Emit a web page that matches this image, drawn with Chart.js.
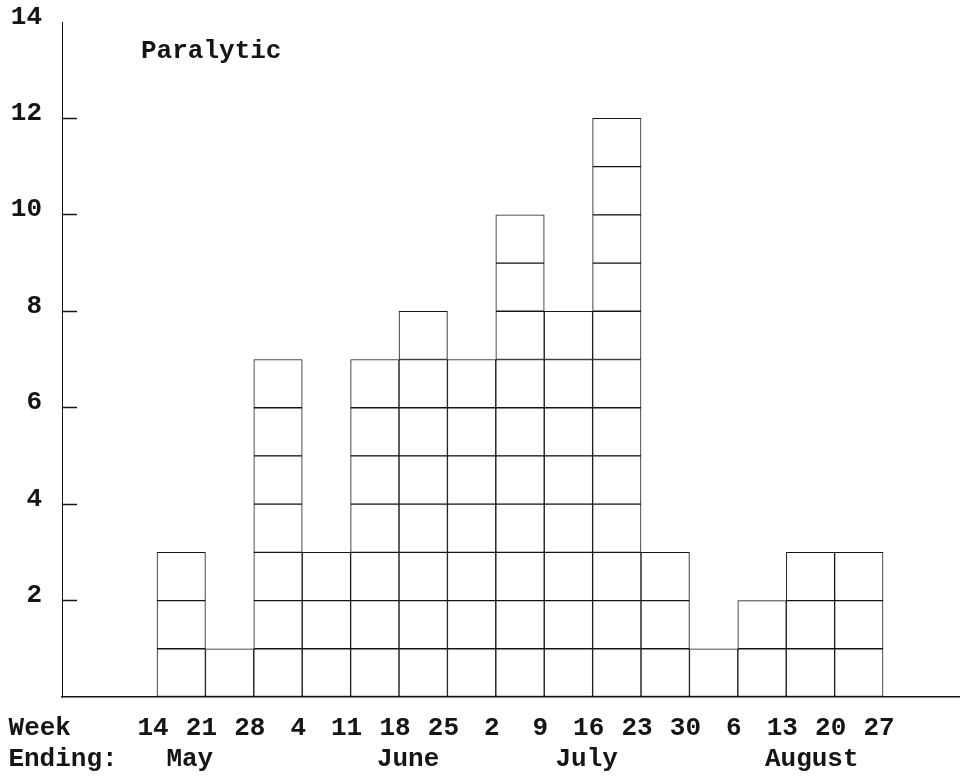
<!DOCTYPE html>
<html>
<head>
<meta charset="utf-8">
<script src="https://cdn.jsdelivr.net/npm/chart.js@4.4.1/dist/chart.umd.min.js"></script>
<style>
  html, body { margin: 0; padding: 0; background: #ffffff; }
  #wrap { width: 960px; height: 777px; position: relative; }
</style>
</head>
<body>
<div id="wrap"><canvas id="c"></canvas></div>
<script>
// ---------------- data ----------------
const weekEndingLabels = ['14','21','28','4','11','18','25','2','9','16','23','30','6','13','20','27'];
const paralyticCases   = [3, 1, 7, 3, 7, 8, 7, 10, 8, 12, 3, 1, 2, 3, 3];
const monthLabels      = ['May', 'June', 'July', 'August'];
const yTickLabels      = ['', '2', '4', '6', '8', '10', '12', '14'];
const chartTitle       = 'Paralytic';
const axisCaption      = ['Week', 'Ending:'];

// ---------------- layout (in week units on the x scale) ----------------
const monthCenters   = [0.76, 5.27, 8.96, 13.61];
const captionCenters = [-2.34, -1.86];
const titleCenter    = 1.12;
const X_MIN = -1.963, X_MAX = 16.59;

const FONT = "'Liberation Mono', 'DejaVu Sans Mono', monospace";
const INK = '#151515';

// unit-square stacks: layer k holds one square for every week with >= k cases
const maxCases = Math.max(...paralyticCases);
const datasets = [];
for (let k = 1; k <= maxCases; k++) {
  const pts = [];
  paralyticCases.forEach((c, i) => { if (c >= k) pts.push({ x: i + 0.5, y: 1 }); });
  datasets.push({
    label: 'case ' + k,
    data: pts,
    backgroundColor: '#ffffff',
    borderColor: INK,
    borderWidth: 1,
    borderSkipped: false,
    barPercentage: 1,
    categoryPercentage: 1
  });
}

// bottom axis ticks: week boundaries, plus second-row month names and the caption
const xTicks = [];
for (let i = 0; i < weekEndingLabels.length - 1; i++) xTicks.push({ value: i, label: weekEndingLabels[i] });
xTicks.push({ value: captionCenters[0], label: axisCaption[0] });
xTicks.push({ value: monthCenters[0], label: ['', monthLabels[0]] });
xTicks.push({ value: monthCenters[1], label: ['', monthLabels[1]] });
xTicks.push({ value: captionCenters[1], label: ['', axisCaption[1]] });
xTicks.push({ value: monthCenters[2], label: ['', monthLabels[2]] });
xTicks.push({ value: monthCenters[3], label: ['', monthLabels[3]] });
xTicks.push({ value: weekEndingLabels.length - 1, label: weekEndingLabels[weekEndingLabels.length - 1] });

new Chart(document.getElementById('c'), {
  type: 'bar',
  data: { datasets },
  options: {
    responsive: true,
    maintainAspectRatio: false,
    animation: false,
    events: [],
    layout: { padding: { top: 22, left: 0, right: 0, bottom: 0 } },
    plugins: { legend: { display: false }, tooltip: { enabled: false }, title: { display: false } },
    scales: {
      x: {
        type: 'linear',
        position: 'bottom',
        stacked: true,
        offset: false,
        min: X_MIN,
        max: X_MAX,
        grid: { display: false, drawTicks: false, offset: false },
        border: { display: true, color: INK, width: 1.5 },
        afterBuildTicks: (scale) => { scale.ticks = xTicks.map(t => ({ value: t.value })); },
        afterFit: (scale) => { scale.height = 80; scale.paddingLeft = 0; scale.paddingRight = 0; },
        ticks: {
          autoSkip: false,
          maxRotation: 0,
          minRotation: 0,
          padding: 16,
          labelOffset: -4,
          color: INK,
          font: { family: FONT, size: 26, weight: 'bold', lineHeight: 1.2 },
          callback: (v, i) => xTicks[i].label
        }
      },
      xt: {
        type: 'linear',
        position: 'top',
        offset: false,
        min: X_MIN,
        max: X_MAX,
        grid: { display: false, drawTicks: false, offset: false },
        border: { display: false },
        afterBuildTicks: (scale) => { scale.ticks = [{ value: titleCenter }]; },
        afterFit: (scale) => { scale.height = 0; scale.paddingLeft = 0; scale.paddingRight = 0; },
        ticks: {
          mirror: true,
          padding: 0,
          autoSkip: false,
          maxRotation: 0,
          color: INK,
          font: { family: FONT, size: 26, weight: 'bold', lineHeight: 2.3 },
          callback: () => chartTitle
        }
      },
      y: {
        type: 'linear',
        position: 'left',
        stacked: true,
        min: 0,
        max: 14,
        afterFit: (scale) => { scale.width = 62; scale.paddingTop = 0; scale.paddingBottom = 0; },
        grid: {
          display: true,
          drawOnChartArea: false,
          drawTicks: true,
          tickLength: -15,
          tickWidth: 1.5,
          tickColor: (ctx) => (ctx.tick && (ctx.tick.value === 14 || ctx.tick.value === 0)) ? 'rgba(0,0,0,0)' : INK
        },
        border: { display: true, color: INK, width: 1 },
        ticks: {
          stepSize: 2,
          padding: 35,
          labelOffset: -5,
          color: INK,
          font: { family: FONT, size: 26, weight: 'bold' },
          callback: (v, i) => yTickLabels[i]
        }
      }
    }
  }
});
</script>
</body>
</html>
